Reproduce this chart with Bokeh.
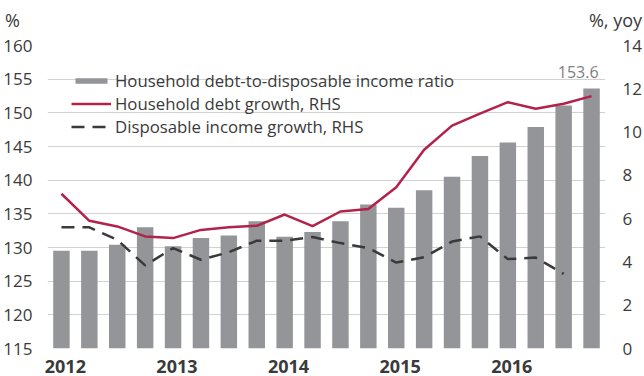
from bokeh.plotting import figure
from bokeh.layouts import column
from bokeh.models import (Range1d, LinearAxis, FixedTicker, Legend, LegendItem,
                          Label, ColumnDataSource, Div)
from bokeh.embed import file_html
from bokeh.resources import INLINE

# ---- data (quarterly, 2012Q1 .. 2016Q4) ----
quarters = ["2012Q1", "2012Q2", "2012Q3", "2012Q4",
            "2013Q1", "2013Q2", "2013Q3", "2013Q4",
            "2014Q1", "2014Q2", "2014Q3", "2014Q4",
            "2015Q1", "2015Q2", "2015Q3", "2015Q4",
            "2016Q1", "2016Q2", "2016Q3", "2016Q4"]
debt_ratio = [129.5, 129.5, 130.4, 133.0, 130.2, 131.4, 131.8, 133.9, 131.6, 132.3,
              133.9, 136.4, 135.9, 138.5, 140.5, 143.6, 145.6, 147.9, 151.1, 153.6]
debt_growth = [7.15, 5.9, 5.64, 5.18, 5.1, 5.48, 5.6, 5.67, 6.19, 5.65,
               6.33, 6.45, 7.45, 9.18, 10.3, 10.85, 11.38, 11.08, 11.31, 11.66]
income_growth = [5.6, 5.6, 5.02, 3.84, 4.64, 4.1, 4.45, 4.98, 4.98, 5.15,
                 4.87, 4.64, 3.97, 4.22, 4.94, 5.18, 4.13, 4.2, 3.45, float("nan")]
year_labels = ["2012", "2013", "2014", "2015", "2016"]
left_ticks = [115, 120, 125, 130, 135, 140, 145, 150, 155, 160]
right_ticks = [0, 2, 4, 6, 8, 10, 12, 14]
left_unit = "%"
right_unit = "%, yoy"

x = [i + 0.5 for i in range(len(quarters))]
src = ColumnDataSource(dict(x=x, ratio=debt_ratio, dg=debt_growth, ig=income_growth))

FONT = "Open Sans"
TXT = "#3a3a3a"
HEAD = 30

head = Div(text=(
    f'<div style="position:relative;width:644px;height:{HEAD}px;'
    f'font-family:\'Open Sans\';font-size:18px;line-height:1;color:{TXT};">'
    f'<span style="position:absolute;left:5px;top:11px;font-size:18px;">{left_unit}</span>'
    f'<span style="position:absolute;right:2px;top:11px;font-size:18px;white-space:nowrap;">{right_unit}</span>'
    '</div>'), width=644, height=HEAD, margin=0)

p = figure(width=644, height=376 - HEAD, output_backend="svg", toolbar_location=None,
           x_range=Range1d(0, len(quarters)), y_range=Range1d(115, 160),
           min_border_left=44, min_border_right=32, min_border_top=45 - HEAD,
           min_border_bottom=28, margin=0)
p.outline_line_color = None
p.background_fill_color = "white"
p.border_fill_color = "white"
p.extra_y_ranges = {"rhs": Range1d(0, 14)}

# axes
year_pos = [4 * k + 0.64 for k in range(len(year_labels))]
p.xaxis.ticker = FixedTicker(ticks=year_pos)
p.xaxis.major_label_overrides = {year_pos[k]: year_labels[k] for k in range(len(year_labels))}
p.xaxis.axis_line_color = None
p.xaxis.major_tick_line_color = None
p.xaxis.minor_tick_line_color = None
p.xaxis.major_label_text_font = FONT
p.xaxis.major_label_text_font_style = "bold"
p.xaxis.major_label_text_font_size = "18px"
p.xaxis.major_label_text_color = TXT
p.xaxis.major_label_standoff = 5

p.yaxis.ticker = FixedTicker(ticks=left_ticks)
p.yaxis.axis_line_color = None
p.yaxis.major_tick_line_color = None
p.yaxis.minor_tick_line_color = None
p.yaxis.major_label_text_font = FONT
p.yaxis.major_label_text_font_size = "17px"
p.yaxis.major_label_text_color = TXT
p.yaxis.major_label_standoff = 9

rax = LinearAxis(y_range_name="rhs", ticker=FixedTicker(ticks=right_ticks))
rax.axis_line_color = None
rax.major_tick_line_color = None
rax.minor_tick_line_color = None
rax.major_label_text_font = FONT
rax.major_label_text_font_size = "17px"
rax.major_label_text_color = TXT
rax.major_label_standoff = 11
p.add_layout(rax, "right")

p.xgrid.grid_line_color = None
p.ygrid.ticker = FixedTicker(ticks=left_ticks)
p.ygrid.grid_line_color = "#d2d2d2"
p.ygrid.grid_line_width = 1.2

bars = p.vbar(x="x", top="ratio", bottom=115, width=0.59, source=src,
              fill_color="#939598", line_color=None)
dg = p.line("x", "dg", source=src, y_range_name="rhs", line_color="#b3224b",
            line_width=2.5)
ig = p.line("x", "ig", source=src, y_range_name="rhs", line_color="#3a3a3a",
            line_width=2.5, line_dash="13 8")

legend = Legend(items=[
    LegendItem(label="Household debt-to-disposable income ratio", renderers=[bars]),
    LegendItem(label="Household debt growth, RHS", renderers=[dg]),
    LegendItem(label="Disposable income growth, RHS", renderers=[ig]),
], location=(24, 210), orientation="vertical",
    background_fill_alpha=0, border_line_color=None, padding=0, margin=0,
    spacing=0, glyph_width=40, glyph_height=7, label_height=18,
    label_standoff=4, label_text_font=FONT, label_text_font_size="16.8px",
    label_text_color=TXT)
p.add_layout(legend)

p.add_layout(Label(x=19.75, y=debt_ratio[-1] + 2.5, text=f"{debt_ratio[-1]:.1f}",
                   text_align="right", text_baseline="alphabetic", text_font=FONT,
                   text_font_size="16px", text_color="#808080"))

layout = column(head, p, spacing=0, margin=0)
open("out.html", "w").write(file_html(layout, INLINE))
